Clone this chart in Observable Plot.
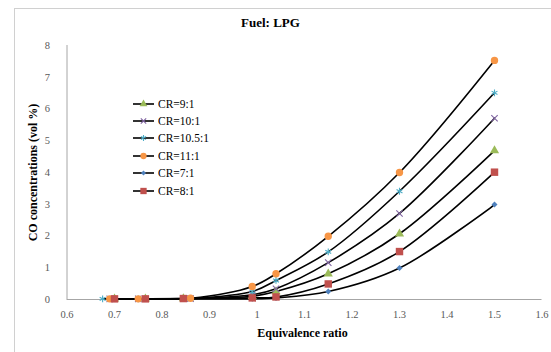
<!DOCTYPE html>
<html>
<head>
<meta charset="utf-8">
<script src="https://cdn.jsdelivr.net/npm/d3@7"></script>
<script src="https://cdn.jsdelivr.net/npm/@observablehq/plot@0.6"></script>
<style>
  html, body { margin: 0; padding: 0; background: #fff; overflow: hidden; }
  #wrap { position: relative; width: 551px; height: 352px; font-family: "Liberation Serif", "Times New Roman", "DejaVu Serif", serif; }
  #frame { position: absolute; left: 14px; top: 8px; width: 600px; height: 400px; border-left: 1px solid #d0d0d0; border-top: 1px solid #d0d0d0; }
  #title { position: absolute; left: 0; width: 541px; top: 15px; text-align: center; font-weight: bold; font-size: 13px; color: #000; }
  #legend { position: absolute; left: 132px; top: 95px; font-size: 11.5px; color: #000; }
  #legend .row { height: 17.4px; display: flex; align-items: center; }
  #legend svg { margin-right: 3px; }
  #chart { position: absolute; left: 0; top: 0; }
  #chart svg text { font-family: "Liberation Serif", "Times New Roman", "DejaVu Serif", serif; }
</style>
</head>
<body>
<div id="wrap">
  <div id="frame"></div>
  <div id="chart"></div>
  <div id="title">Fuel: LPG</div>
  <div id="legend"></div>
</div>
<script>
// Series (Excel order: legend order)
const seriesNames = ["CR=9:1", "CR=10:1", "CR=10.5:1", "CR=11:1", "CR=7:1", "CR=8:1"];
const seriesColors = ["#9BBB59", "#8064A2", "#4BACC6", "#F79646", "#4F81BD", "#C0504D"];
const seriesSymbols = ["triangle", "times", "asterisk", "circle", "diamond2", "square"];

const x_9 = [0.70, 0.765, 0.845, 0.99, 1.04, 1.15, 1.3, 1.5];
const y_9 = [0.02, 0.02, 0.03, 0.10, 0.25, 0.81, 2.07, 4.69];
const x_10 = [0.69, 0.75, 0.86, 0.99, 1.04, 1.15, 1.3, 1.5];
const y_10 = [0.02, 0.02, 0.03, 0.15, 0.34, 1.16, 2.71, 5.71];
const x_105 = [0.675, 0.75, 0.86, 0.99, 1.04, 1.15, 1.3, 1.5];
const y_105 = [0.02, 0.02, 0.03, 0.25, 0.60, 1.50, 3.41, 6.51];
const x_11 = [0.69, 0.75, 0.86, 0.99, 1.04, 1.15, 1.3, 1.5];
const y_11 = [0.02, 0.02, 0.04, 0.41, 0.81, 1.99, 4.00, 7.53];
const x_7 = [0.70, 0.765, 0.845, 0.99, 1.04, 1.15, 1.3, 1.5];
const y_7 = [0.02, 0.02, 0.02, 0.02, 0.05, 0.25, 0.99, 2.99];
const x_8 = [0.70, 0.765, 0.845, 0.99, 1.04, 1.15, 1.3, 1.5];
const y_8 = [0.02, 0.02, 0.03, 0.05, 0.08, 0.49, 1.51, 4.01];

const xTicks = [0.6, 0.7, 0.8, 0.9, 1, 1.1, 1.2, 1.3, 1.4, 1.5, 1.6];
const yTicks = [0, 1, 2, 3, 4, 5, 6, 7, 8];
const xLabel = "Equivalence ratio";
const yLabel = "CO concentrations (vol %)";

const xs = [x_9, x_10, x_105, x_11, x_7, x_8];
const ys = [y_9, y_10, y_105, y_11, y_7, y_8];
const rows = [];
seriesNames.forEach((s, i) => xs[i].forEach((xv, j) => rows.push({series: s, x: xv, y: ys[i][j]})));

const symbolSize = {"triangle": 3.4, "times": 3.0, "asterisk": 3.2, "circle": 3.7, "diamond2": 2.7, "square": 4.2};

const FONT = "'Liberation Serif', 'Times New Roman', 'DejaVu Serif', serif";
const marks = [
  Plot.ruleY([0], {stroke: "#a6a6a6", strokeWidth: 1}),
  Plot.ruleX([0.6], {stroke: "#a6a6a6", strokeWidth: 1}),
  Plot.axisX({ticks: xTicks, tickSize: 0, tickPadding: 11, fontSize: 10.5, fill: "#595959", tickFormat: d => String(d), label: null}),
  Plot.axisY({ticks: yTicks, tickSize: 0, tickPadding: 17, fontSize: 10.5, fill: "#595959", label: null}),
  Plot.text([xLabel], {frameAnchor: "bottom", textAnchor: "middle", lineAnchor: "middle", dy: 34, dx: -2, fontWeight: "bold", fontSize: 12, fill: "#000"}),
  Plot.text([yLabel], {frameAnchor: "left", textAnchor: "middle", lineAnchor: "middle", dx: -34, rotate: -90, fontWeight: "bold", fontSize: 12, fill: "#000"})
];
seriesNames.forEach((s, i) => {
  const d = rows.filter(r => r.series === s);
  marks.push(Plot.line(d, {x: "x", y: "y", stroke: "#000", strokeWidth: 1.6, curve: "catmull-rom"}));
});
seriesNames.forEach((s, i) => {
  const d = rows.filter(r => r.series === s);
  const sym = seriesSymbols[i];
  const stroked = sym === "times" || sym === "asterisk";
  marks.push(Plot.dot(d, {x: "x", y: "y", symbol: () => sym, r: symbolSize[sym],
    fill: stroked ? "none" : seriesColors[i], stroke: stroked ? seriesColors[i] : "none", strokeWidth: 1.1}));
});

const chart = Plot.plot({
  width: 551,
  height: 352,
  marginLeft: 66.5,
  marginRight: 9.5,
  marginTop: 45,
  marginBottom: 53,
  style: {fontFamily: FONT, background: "transparent", overflow: "visible"},
  x: {domain: [0.6, 1.6]},
  y: {domain: [0, 8]},
  symbol: {type: "identity"},
  marks
});
document.getElementById("chart").appendChild(chart);

// Legend
const legend = document.getElementById("legend");
seriesNames.forEach((s, i) => {
  const row = document.createElement("div");
  row.className = "row";
  const svg = d3.create("svg").attr("width", 23).attr("height", 12);
  svg.append("line").attr("x1", 1).attr("x2", 22).attr("y1", 6).attr("y2", 6).attr("stroke", "#000").attr("stroke-width", 1.6);
  const sym = seriesSymbols[i];
  const stroked = sym === "times" || sym === "asterisk";
  const symType = {"triangle": d3.symbolTriangle, "times": d3.symbolTimes, "asterisk": d3.symbolAsterisk, "circle": d3.symbolCircle, "diamond2": d3.symbolDiamond2, "square": d3.symbolSquare}[sym];
  const r = symbolSize[sym] * 0.85;
  svg.append("path").attr("transform", "translate(11.5,6)")
    .attr("d", d3.symbol(symType, r * r * Math.PI)())
    .attr("fill", stroked ? "none" : seriesColors[i])
    .attr("stroke", stroked ? seriesColors[i] : "none").attr("stroke-width", 1.1);
  row.appendChild(svg.node());
  const t = document.createElement("span");
  t.textContent = s;
  row.appendChild(t);
  legend.appendChild(row);
});
</script>
</body>
</html>
